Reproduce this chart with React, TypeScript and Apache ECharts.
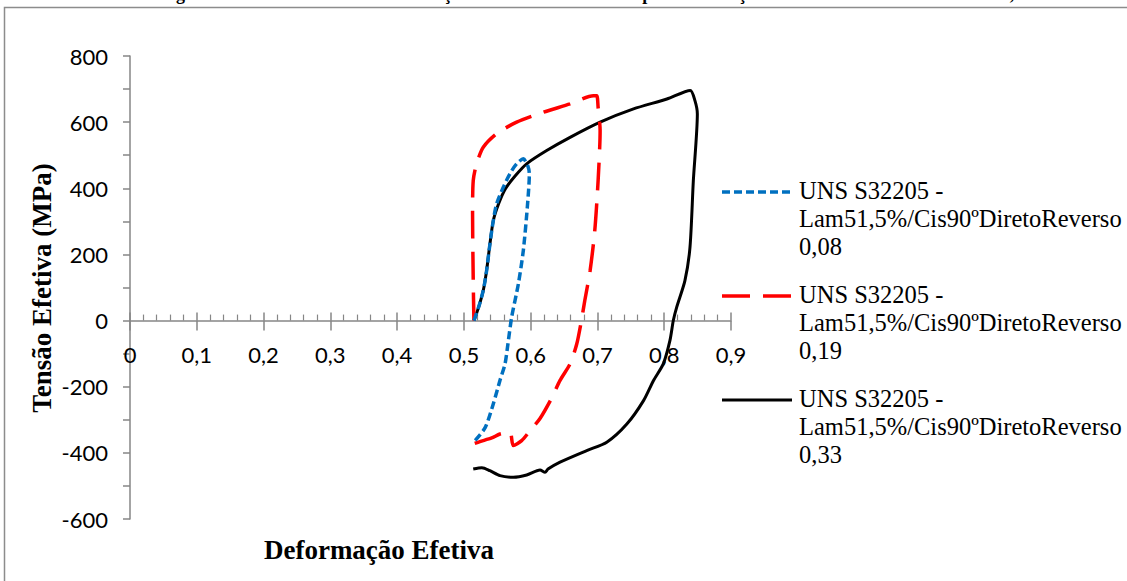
import React, { useEffect, useRef } from "react";
import * as echarts from "echarts";

const xTicks = [0, 0.1, 0.2, 0.3, 0.4, 0.5, 0.6, 0.7, 0.8, 0.9];
const yTicks = [-600, -400, -200, 0, 200, 400, 600, 800];

const seriesNames = [
  "UNS S32205 - Lam51,5%/Cis90ºDiretoReverso 0,08",
  "UNS S32205 - Lam51,5%/Cis90ºDiretoReverso 0,19",
  "UNS S32205 - Lam51,5%/Cis90ºDiretoReverso 0,33",
];
const legendLines = [
  ["UNS S32205 -", "Lam51,5%/Cis90ºDiretoReverso", "0,08"],
  ["UNS S32205 -", "Lam51,5%/Cis90ºDiretoReverso", "0,19"],
  ["UNS S32205 -", "Lam51,5%/Cis90ºDiretoReverso", "0,33"],
];

const curve008: [number, number][] = [
  [0.515, 0], [0.522, 40], [0.529, 91], [0.534, 151], [0.539, 232], [0.544, 302],
  [0.549, 353], [0.559, 403], [0.569, 444], [0.579, 474], [0.589, 489], [0.596, 466],
  [0.598, 443], [0.595, 343], [0.589, 212], [0.5816, 111], [0.5715, 10], [0.566, -70],
  [0.5616, -131], [0.554, -181], [0.544, -252], [0.532, -323], [0.5166, -363], [0.514, -365],
];

const curve019: [number, number][] = [
  [0.515, 0], [0.514, 121], [0.513, 323], [0.514, 423], [0.519, 474], [0.529, 524],
  [0.549, 565], [0.579, 600], [0.619, 630], [0.659, 655], [0.694, 680], [0.699, 680],
  [0.701, 645], [0.704, 575], [0.701, 423], [0.696, 272], [0.689, 151], [0.681, 60],
  [0.676, 0], [0.669, -71], [0.659, -131], [0.644, -181], [0.631, -236], [0.614, -296],
  [0.599, -333], [0.5865, -363], [0.574, -378], [0.569, -338], [0.554, -343],
  [0.5416, -355], [0.524, -366], [0.514, -373],
];

const curve033: [number, number][] = [
  [0.515, 0], [0.522, 40], [0.529, 91], [0.534, 151], [0.539, 232], [0.544, 302],
  [0.552, 353], [0.562, 398], [0.577, 438], [0.594, 474], [0.624, 514], [0.659, 554],
  [0.704, 600], [0.754, 640], [0.804, 670], [0.839, 696], [0.846, 665], [0.8496, 625],
  [0.8436, 423], [0.8386, 222], [0.831, 121], [0.8186, 40], [0.8136, 0], [0.8086, -60],
  [0.7986, -131], [0.784, -181], [0.769, -242], [0.744, -313], [0.714, -368],
  [0.684, -393], [0.644, -428], [0.626, -449], [0.6215, -459], [0.614, -452],
  [0.594, -467], [0.574, -474], [0.554, -469], [0.539, -454], [0.527, -445], [0.514, -449],
];

const colors = ["#0070C0", "#FF0000", "#000000"];
const dashes = [[8, 4], [28, 13], "solid"] as any[];
const widths = [3.5, 3.5, 3];

export default function App() {
  const ref = useRef<HTMLDivElement>(null);
  useEffect(() => {
    const chart = echarts.init(ref.current!, null, { renderer: "svg" });
    const axisGray = "#868686";
    const legendTop = [192, 296, 400];
    const graphic: any[] = [
      {
        type: "rect",
        shape: { x: 4.5, y: 7.5, width: 1200, height: 700 },
        style: { fill: "none", stroke: "#8c8c8c", lineWidth: 1.5 },
        silent: true,
      },
      {
        type: "text",
        x: 160,
        y: -15,
        style: {
          text: "Figura 5.31 - Curvas tensão-deformação efetiva direto-reverso para a condição laminada UNS S32205 - Lam51,5%",
          font: "bold 18px 'Liberation Serif'",
          fill: "#000",
        },
      },
      {
        type: "text",
        x: 42,
        y: 288,
        rotation: Math.PI / 2,
        style: {
          text: "Tensão Efetiva (MPa)",
          font: "bold 27px 'Liberation Serif'",
          fill: "#000",
          align: "center",
          verticalAlign: "middle",
        },
      },
      {
        type: "text",
        x: 379,
        y: 550,
        style: {
          text: "Deformação Efetiva",
          font: "bold 27px 'Liberation Serif'",
          fill: "#000",
          align: "center",
          verticalAlign: "middle",
        },
      },
    ];
    legendLines.forEach((lines, i) => {
      graphic.push({
        type: "line",
        shape: { x1: 722, y1: legendTop[i], x2: 792, y2: legendTop[i] },
        style: {
          stroke: colors[i],
          lineWidth: widths[i],
          lineDash: dashes[i] === "solid" ? null : dashes[i],
        },
      });
      graphic.push({
        type: "text",
        x: 799,
        y: legendTop[i] - 16,
        style: {
          text: lines.join("\n"),
          font: "24.5px 'Liberation Serif'",
          lineHeight: 28,
          fill: "#000",
          align: "left",
          verticalAlign: "top",
        },
      });
    });

    const xFmt = (v: number) => {
      const t = xTicks.find((k) => Math.abs(k - v) < 1e-6);
      return t === undefined ? "" : String(t).replace(".", ",");
    };

    const datasets = [curve008, curve019, curve033];
    chart.setOption({
      animation: false,
      backgroundColor: "#ffffff",
      grid: [
        { left: 130, right: 396, top: 56, bottom: 62, containLabel: false },
        { left: 130, right: 396, top: 56, bottom: 261, containLabel: false },
      ],
      legend: { show: false },
      xAxis: [
        {
          type: "value",
          gridIndex: 0,
          min: 0,
          max: 0.9,
          interval: 0.1,
          position: "bottom",
          axisLine: { show: true, onZero: true, onZeroAxisIndex: 0, lineStyle: { color: axisGray, width: 1.5 } },
          axisTick: { show: true, length: 10, inside: false, lineStyle: { color: axisGray, width: 1.5 } },
          axisLabel: { show: false },
          splitLine: { show: false },
        },
        {
          type: "value",
          gridIndex: 0,
          min: 0,
          max: 0.9,
          interval: 0.1,
          position: "top",
          axisLine: { show: false, onZero: true, onZeroAxisIndex: 1 },
          axisTick: { show: true, length: 8, inside: false, lineStyle: { color: axisGray, width: 1.5 } },
          minorTick: { show: true, splitNumber: 5, length: 6, lineStyle: { color: axisGray, width: 1.2 } },
          axisLabel: { show: false },
          splitLine: { show: false },
        },
        {
          type: "value",
          gridIndex: 1,
          min: 0,
          max: 0.9,
          interval: 0.1,
          position: "bottom",
          axisLine: { show: false, onZero: false },
          axisTick: { show: false },
          axisLabel: {
            margin: 23,
            color: "#000",
            fontFamily: "Lato",
            fontSize: 22,
            formatter: xFmt,
          },
          splitLine: { show: false },
        },
      ],
      yAxis: [
        {
          type: "value",
          gridIndex: 0,
          min: -600,
          max: 800,
          interval: 200,
          axisLine: { show: true, onZero: false, lineStyle: { color: axisGray, width: 1.5 } },
          axisTick: { show: true, length: 7, lineStyle: { color: axisGray, width: 1.5 } },
          minorTick: { show: true, splitNumber: 2, length: 7, lineStyle: { color: axisGray, width: 1.5 } },
          axisLabel: {
            margin: 22,
            color: "#000",
            fontFamily: "Lato",
            fontSize: 22,
            formatter: (v: number) => {
              const t = yTicks.find((k) => k === v);
              return t === undefined ? "" : String(t);
            },
          },
          splitLine: { show: false },
        },
        {
          type: "value",
          gridIndex: 0,
          min: -600,
          max: 800,
          interval: 200,
          show: false,
          axisLine: { onZero: false },
        },
        {
          type: "value",
          gridIndex: 1,
          min: 0,
          max: 1,
          show: false,
          axisLine: { onZero: false },
        },
      ],
      series: datasets.map((d, i) => ({
        name: seriesNames[i],
        type: "line",
        xAxisIndex: 0,
        yAxisIndex: 0,
        data: d,
        showSymbol: false,
        symbol: "none",
        smooth: 0.25,
        lineStyle: { color: colors[i], width: widths[i], type: dashes[i] },
        itemStyle: { color: colors[i] },
        z: 3 - i,
      })),
      graphic,
    });
    return () => chart.dispose();
  }, []);
  return (
    <div
      ref={ref}
      style={{ position: "absolute", left: 0, top: 0, width: 1127, height: 581, background: "#fff" }}
    />
  );
}
